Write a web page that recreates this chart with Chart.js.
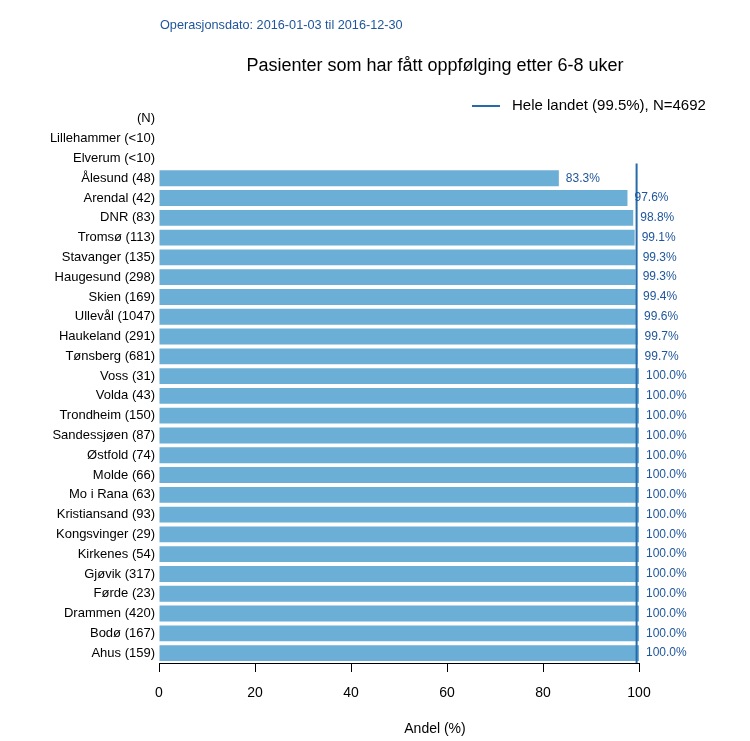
<!DOCTYPE html>
<html>
<head>
<meta charset="utf-8">
<script src="https://cdn.jsdelivr.net/npm/chart.js@4"></script>
<style>
  body { margin: 0; background: #fff; }
  #wrap { width: 750px; height: 741px; }
</style>
</head>
<body>
<div id="wrap"><canvas id="andelChart" width="750" height="741"></canvas></div>
<script>
// categories, top to bottom
const sykehus = [
  "(N)", "Lillehammer (<10)", "Elverum (<10)",
  "Ålesund (48)", "Arendal (42)", "DNR (83)", "Tromsø (113)", "Stavanger (135)",
  "Haugesund (298)", "Skien (169)", "Ullevål (1047)", "Haukeland (291)", "Tønsberg (681)",
  "Voss (31)", "Volda (43)", "Trondheim (150)", "Sandessjøen (87)", "Østfold (74)",
  "Molde (66)", "Mo i Rana (63)", "Kristiansand (93)", "Kongsvinger (29)", "Kirkenes (54)",
  "Gjøvik (317)", "Førde (23)", "Drammen (420)", "Bodø (167)", "Ahus (159)"
];
// share in percent (null = too few / header row)
const andel = [
  null, null, null,
  83.3, 97.6, 98.8, 99.1, 99.3,
  99.3, 99.4, 99.6, 99.7, 99.7,
  100, 100, 100, 100, 100,
  100, 100, 100, 100, 100,
  100, 100, 100, 100, 100
];
const heleLandet = 99.5;
const heleLandetN = 4692;
const xTicks = [0, 20, 40, 60, 80, 100];

const fontFam = "'Liberation Sans', Arial, Helvetica, sans-serif";
const barBlue = "rgb(107,174,214)";
const lineBlue = "rgb(40,105,170)";
const textBlue = "rgb(30,85,155)";

// titles, value labels, national line, axis line
const extras = {
  id: "extras",
  afterDatasetsDraw(chart) {
    const ctx = chart.ctx;
    const x = chart.scales.x, y = chart.scales.y;
    const area = chart.chartArea;
    const mid = (area.left + area.right) / 2;
    ctx.save();

    ctx.fillStyle = textBlue;
    ctx.font = "12.7px " + fontFam;
    ctx.textAlign = "left";
    ctx.textBaseline = "middle";
    ctx.fillText("Operasjonsdato: 2016-01-03 til 2016-12-30", 160, 25);

    ctx.fillStyle = "#000";
    ctx.font = "18px " + fontFam;
    ctx.textAlign = "center";
    ctx.fillText("Pasienter som har fått oppfølging etter 6-8 uker", mid, 66);

    // legend
    ctx.strokeStyle = lineBlue;
    ctx.lineWidth = 2;
    ctx.beginPath();
    ctx.moveTo(472, 106);
    ctx.lineTo(500, 106);
    ctx.stroke();
    ctx.font = "15px " + fontFam;
    ctx.textAlign = "left";
    ctx.fillText("Hele landet (" + heleLandet.toFixed(1) + "%), N=" + heleLandetN, 512, 106);

    // national average line
    const xl = x.getPixelForValue(heleLandet);
    ctx.beginPath();
    ctx.moveTo(xl, y.getPixelForValue(2.25));
    ctx.lineTo(xl, area.bottom);
    ctx.stroke();

    // value labels
    ctx.fillStyle = textBlue;
    ctx.font = "12px " + fontFam;
    andel.forEach((v, i) => {
      if (v === null) return;
      ctx.fillText(v.toFixed(1) + "%", x.getPixelForValue(v) + 7, y.getPixelForValue(i));
    });

    // x axis line 0..100
    ctx.strokeStyle = "#000";
    ctx.lineWidth = 1;
    ctx.beginPath();
    ctx.moveTo(x.getPixelForValue(0), area.bottom + 0.5);
    ctx.lineTo(x.getPixelForValue(100), area.bottom + 0.5);
    ctx.stroke();
    ctx.restore();
  }
};

new Chart(document.getElementById("andelChart").getContext("2d"), {
  type: "bar",
  data: {
    labels: sykehus,
    datasets: [{
      data: andel,
      backgroundColor: barBlue,
      borderWidth: 0,
      barPercentage: 0.8,
      categoryPercentage: 1
    }]
  },
  options: {
    indexAxis: "y",
    responsive: false,
    animation: false,
    layout: { padding: { top: 109, right: 39, bottom: 0, left: 0 } },
    plugins: {
      legend: { display: false },
      tooltip: { enabled: false }
    },
    scales: {
      x: {
        min: 0,
        max: 115,
        afterBuildTicks: s => { s.ticks = xTicks.map(v => ({ value: v })); },
        afterFit: s => { s.height = 78; },
        grid: { drawOnChartArea: false, color: "#000", tickLength: 9 },
        border: { display: false },
        ticks: { color: "#000", font: { family: fontFam, size: 14 }, padding: 13, maxRotation: 0 },
        title: {
          display: true, text: "Andel (%)", color: "#000",
          font: { family: fontFam, size: 14 }, padding: { top: 0, bottom: 3 }
        }
      },
      y: {
        afterFit: s => { s.width = 159; },
        grid: { display: false, drawTicks: false, tickLength: 0 },
        border: { display: false },
        ticks: { color: "#000", font: { family: fontFam, size: 13 }, padding: 4, autoSkip: false }
      }
    }
  },
  plugins: [extras]
});
</script>
</body>
</html>
